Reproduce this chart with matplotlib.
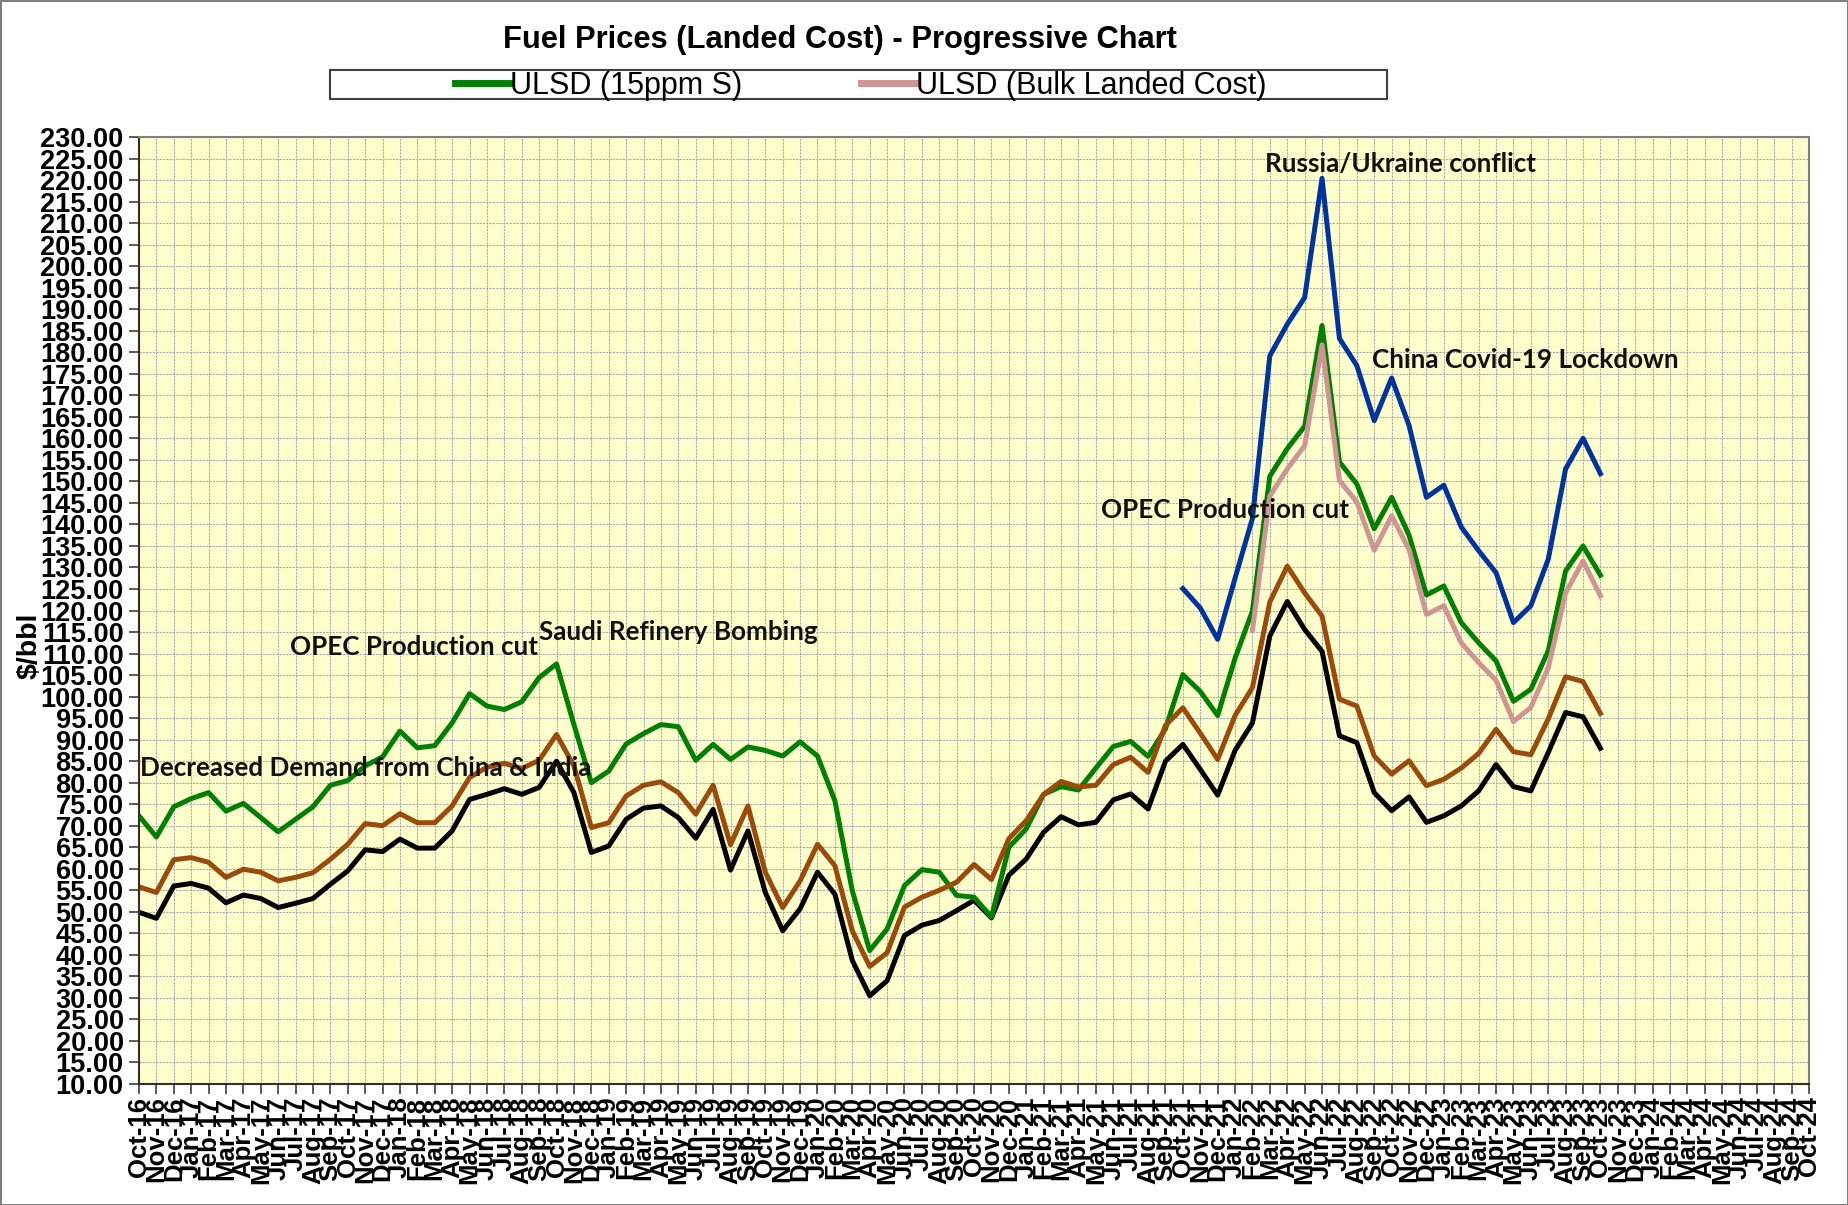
import numpy as np
import pandas as pd
import matplotlib
matplotlib.use('Agg')
import matplotlib.pyplot as plt
from matplotlib.lines import Line2D
from matplotlib.patches import Rectangle

# Datos mensuales (Oct-16 .. Oct-23), $/bbl
green = [72.3, 67.4, 74.4, 76.3, 77.7, 73.4, 75.2, 71.9, 68.6, 71.5, 74.4, 79.4,
         80.5, 83.9, 86.0, 92.0, 88.1, 88.6, 93.9, 100.7, 97.8, 97.0, 98.8, 104.4,
         107.6, 93.5, 80.0, 82.7, 89.0, 91.4, 93.5, 93.0, 85.2, 88.9, 85.4, 88.3,
         87.5, 86.2, 89.5, 86.2, 75.8, 54.9, 41.0, 46.0, 56.1, 59.8, 59.2, 53.8,
         53.4, 48.8, 65.0, 69.3, 77.3, 79.1, 78.3, 83.4, 88.4, 89.6, 86.1, 92.5,
         105.1, 101.2, 95.6, 108.9, 119.9, 151.2, 157.6, 162.8, 186.2, 154.5, 149.4, 139.0,
         146.3, 137.5, 123.6, 125.7, 117.2, 112.5, 108.3, 98.9, 101.7, 110.6, 129.2, 135.0,
         128.2]
brown = [55.8, 54.5, 62.1, 62.6, 61.5, 58.0, 59.9, 59.2, 57.2, 58.0, 59.1, 62.2,
         65.7, 70.5, 70.0, 72.8, 70.7, 70.7, 74.6, 81.2, 83.6, 84.5, 83.3, 85.2,
         91.2, 83.9, 69.6, 70.7, 76.9, 79.4, 80.2, 77.7, 72.7, 79.4, 65.6, 74.6,
         59.2, 51.0, 57.2, 65.7, 60.7, 45.6, 37.3, 40.5, 51.1, 53.4, 55.0, 56.9,
         61.0, 57.5, 67.0, 71.2, 77.3, 80.3, 79.0, 79.4, 84.2, 85.9, 82.4, 93.3,
         97.4, 91.5, 85.4, 95.6, 102.1, 122.0, 130.3, 124.1, 118.7, 99.4, 97.8, 86.2,
         82.0, 85.1, 79.3, 80.8, 83.4, 86.8, 92.4, 87.2, 86.5, 94.8, 104.6, 103.5,
         96.1]
black = [49.9, 48.5, 56.0, 56.6, 55.5, 52.1, 53.9, 53.1, 51.0, 52.0, 53.1, 56.4,
         59.5, 64.4, 64.0, 66.9, 64.8, 64.8, 68.8, 76.1, 77.3, 78.6, 77.3, 78.9,
         85.0, 77.7, 63.8, 65.3, 71.5, 74.1, 74.6, 71.9, 67.1, 73.8, 59.7, 68.8,
         54.5, 45.6, 50.7, 59.2, 54.1, 38.7, 30.5, 34.0, 44.5, 46.9, 48.0, 50.3,
         52.7, 48.6, 58.5, 62.3, 68.5, 72.1, 70.2, 70.8, 76.0, 77.4, 73.9, 85.0,
         88.9, 83.1, 77.1, 87.5, 93.9, 114.1, 122.1, 115.6, 110.5, 90.9, 89.3, 77.7,
         73.5, 76.7, 70.8, 72.3, 74.6, 78.1, 84.2, 79.1, 78.1, 87.0, 96.3, 95.3,
         88.0]
# desde Oct-21
blue = [125.1, 120.6, 113.3, 127.5, 141.4, 179.2, 186.5, 192.7, 220.4, 183.2, 176.9, 164.1,
        174.0, 163.0, 146.3, 149.1, 139.4, 133.9, 128.8, 117.2, 121.1, 131.9, 152.9, 160.0,
        151.8]
# desde Feb-22
pink = [115.4, 146.6, 152.9, 158.3, 181.7, 150.2, 145.2, 134.0, 142.0, 134.2, 119.1, 121.1,
        112.5, 107.9, 103.8, 94.2, 97.5, 106.7, 124.1, 131.5, 123.4]

meses = pd.date_range('2016-10-01', '2024-10-01', freq='MS').strftime('%b-%y').tolist()
notas = [('Decreased Demand from China & India', 0.05, 83.4),
         ('OPEC Production cut', 8.7, 111.5),
         ('Saudi Refinery Bombing', 23.0, 115.1),
         ('OPEC Production cut', 55.3, 143.3),
         ('Russia/Ukraine conflict', 64.7, 223.7),
         ('China Covid-19 Lockdown', 70.9, 178.3)]

x = np.arange(len(green))
x_blue = np.arange(60, 60 + len(blue))
x_pink = np.arange(64, 64 + len(pink))

fig = plt.figure(figsize=(18.48, 12.05), dpi=100)
fig.patch.set_edgecolor('#808080')
fig.patch.set_linewidth(2)
ax = fig.add_axes([0.0752, 0.1004, 0.979 - 0.0752, 0.8863 - 0.1004])
ax.set_facecolor('#FFFFCC')

lw = 3.6
ax.plot(x, black, color='black', lw=lw)
ax.plot(x, green, color='#008000', lw=lw)
ax.plot(x, brown, color='#9C4A0B', lw=lw)
ax.plot(x_pink, pink, color='#D09494', lw=lw)
ax.plot(x_blue, blue, color='#0033A0', lw=lw)

ax.set_xlim(0, len(meses) - 1)
ax.set_ylim(10, 230)
ax.set_xticks(range(len(meses)))
ax.set_xticklabels(meses, rotation=90, fontsize=18.5, fontweight='bold',
                   family='Liberation Sans')
yt = np.arange(10, 231, 5)
ax.set_yticks(yt)
ax.set_yticklabels(['%.2f' % v for v in yt], fontsize=19.5, fontweight='bold',
                   family='Liberation Sans')
ax.tick_params(axis='both', length=7, width=1.2, color='#404040', pad=2)
ax.tick_params(axis='y', pad=4)
ax.grid(True, color='#A8A8B0', lw=0.8, ls=(0, (2, 1)))
ax.set_axisbelow(True)
for s in ax.spines.values():
    s.set_color('#808080')
    s.set_linewidth(1.5)
ax.spines['left'].set_color('#303030')
ax.spines['bottom'].set_color('#303030')

for txt, xi, yi in notas:
    ax.text(xi, yi, txt, ha='left', va='center', fontsize=18.7, fontweight='bold',
            family='Lato', color='#111111')

fig.text(0.4547, 0.967, 'Fuel Prices (Landed Cost) - Progressive Chart', ha='center', va='center',
         fontsize=22.2, fontweight='bold', family='Liberation Sans')
fig.text(0.016, 0.464, r'\$/bbl', rotation=90, ha='center', va='center', fontsize=20.5,
         fontweight='bold', family='Liberation Sans')

# Leyenda
fig.patches.append(Rectangle((330 / 1848, 1 - 99 / 1205), (1387 - 330) / 1848, 29 / 1205,
                             transform=fig.transFigure, fill=False, edgecolor='#404040', lw=1.5))
handles = [Line2D([], [], color='#008000', lw=5), Line2D([], [], color='#D09494', lw=5)]
fig.legend(handles, ['ULSD (15ppm S)', 'ULSD (Bulk Landed Cost)'], loc='center',
           bbox_to_anchor=(861 / 1848, 1 - 86 / 1205), ncol=2, frameon=False,
           prop={'family': 'Liberation Sans', 'size': 22}, handlelength=1.75,
           handletextpad=0.05, columnspacing=3.9, borderpad=0)

fig.savefig('out.png', dpi=100)
